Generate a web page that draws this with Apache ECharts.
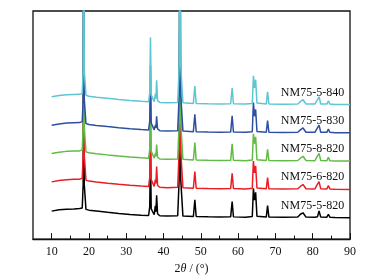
<!DOCTYPE html>
<html>
<head>
<meta charset="utf-8">
<script src="https://cdn.jsdelivr.net/npm/echarts@6/dist/echarts.min.js"></script>
<style>
  html, body { margin: 0; padding: 0; background: #fff; }
  #container { width: 373px; height: 280px; }
</style>
</head>
<body>
<div id="container"></div>
<script>
// 2theta positions shared by every pattern
var twoTheta = [
    10, 12, 14, 16, 17.5,
    18.2, 18.45, 18.6, 18.75, 19.2,
    20, 22, 25, 28, 31,
    34, 36.0, 36.3, 36.5, 36.7,
    37.5, 37.8, 37.95, 38.15, 38.4,
    39, 41, 43.8, 44.2, 44.4,
    44.6, 45.2, 48.0, 48.4, 48.75,
    52, 55, 58.0, 58.4, 58.75,
    62, 63.8, 64.1, 64.4, 64.7,
    65.05, 67.55, 67.9, 68.25, 72,
    76, 76.7, 77.0, 77.4, 78.2,
    80.6, 80.95, 81.3, 81.7, 82.15,
    83.8, 84.2, 84.6, 86, 90
];

// intensities (a.u., already stacked)
var nm75_5_820 = [
    28.7, 30, 30.7, 31, 31.3,
    32, 56, 271, 56, 30.5,
    29.7, 28.8, 27.5, 26.3, 25.3,
    24.5, 24.2, 33, 91, 31,
    25, 34, 28, 45, 26,
    24, 23.6, 24, 62, 282,
    62, 23.6, 23.2, 40.3, 23.2,
    22.9, 22.7, 22.8, 38.5, 22.8,
    22.5, 23.2, 52, 40, 48,
    23.5, 22.6, 34.5, 22.6, 22.3,
    22.6, 25.5, 26, 27, 22.6,
    22.5, 24.5, 23, 29, 22.6,
    22.5, 25.5, 22.5, 22.2, 22
];
var nm75_6_820 = [
    58.7, 60, 61, 61.3, 61.5,
    62.5, 86, 301, 86, 60.5,
    59.5, 58.6, 57.4, 56.3, 55.3,
    54.5, 54, 63, 120, 61,
    54, 61, 57, 74.4, 55,
    53.2, 52.8, 53.2, 91, 311,
    91, 52.8, 52.2, 69.3, 52.2,
    51.9, 51.7, 51.8, 67.6, 51.8,
    51.5, 52.2, 80, 68, 75,
    52.5, 51.6, 63, 51.6, 51.3,
    51.6, 54, 54.5, 56, 51.6,
    51.5, 54, 52, 59, 51.6,
    51.5, 55, 51.5, 51.2, 51
];
var nm75_8_820 = [
    87.7, 89, 90, 90.3, 90.5,
    91.5, 115, 330, 115, 89.5,
    88.5, 87.6, 86.4, 85.3, 84.3,
    83.5, 83, 92, 149, 90,
    83, 88, 85, 97, 84,
    82.2, 81.8, 82.2, 120, 340,
    120, 81.8, 81.2, 99, 81.2,
    80.9, 80.7, 80.8, 97.7, 80.8,
    80.5, 81.2, 108, 98, 105,
    81.5, 80.6, 92, 80.6, 80.3,
    80.6, 83, 83.5, 85, 80.6,
    80.5, 83, 81, 88, 80.6,
    80.5, 84, 80.5, 80.2, 80
];
var nm75_5_830 = [
    116.7, 118, 119, 119.3, 119.5,
    120.5, 144, 359, 144, 118.5,
    117.5, 116.6, 115.4, 114.3, 113.3,
    112.5, 112, 121, 178, 119,
    112, 117, 114, 126, 113,
    111.2, 110.8, 111.2, 149, 369,
    149, 110.8, 110.2, 128, 110.2,
    109.9, 109.7, 109.8, 126.5, 109.8,
    109.5, 110.2, 140, 126, 133,
    110.5, 109.6, 121.5, 109.6, 109.3,
    109.6, 112, 112.5, 114, 109.6,
    109.5, 112, 110, 117, 109.6,
    109.5, 113, 109.5, 109.2, 109
];
var nm75_5_840 = [
    146, 147.3, 148, 148.3, 148.5,
    149.5, 173, 388, 173, 147.5,
    146.5, 145.6, 144.4, 143.3, 142.3,
    141.5, 141, 150, 207, 148,
    141, 149, 144, 163, 142,
    140.2, 139.8, 140.2, 178, 398,
    178, 139.8, 139.2, 157, 139.2,
    138.9, 138.7, 138.8, 155, 138.8,
    138.5, 139.2, 167.5, 155, 163.5,
    139.5, 138.6, 151, 138.6, 138.3,
    138.6, 141, 141.5, 143, 138.6,
    138.5, 141, 139, 146, 138.6,
    138.5, 142, 138.5, 138.2, 138
];

var sampleNames = ['NM75-5-820', 'NM75-6-820', 'NM75-8-820', 'NM75-5-830', 'NM75-5-840'];
var patterns = [nm75_5_820, nm75_6_820, nm75_8_820, nm75_5_830, nm75_5_840];
var lineColors = ['#000000', '#ec1c24', '#62bb46', '#2d4fa3', '#5ec6d3'];

var majorTicks = [10, 20, 30, 40, 50, 60, 70, 80, 90];
var minorTicks = [15, 25, 35, 45, 55, 65, 75, 85];

var serif = 'Liberation Serif';

function toPairs(ys) {
    var pts = [];
    for (var i = 0; i < twoTheta.length; i++) {
        pts.push([twoTheta[i], ys[i]]);
    }
    return pts;
}

var dom = document.getElementById('container');
var myChart = echarts.init(dom, null, { renderer: 'canvas' });

var seriesList = patterns.map(function (ys, i) {
    return {
        name: sampleNames[i],
        type: 'line',
        xAxisIndex: 0,
        data: toPairs(ys),
        showSymbol: false,
        symbol: 'none',
        clip: true,
        animation: false,
        lineStyle: { color: lineColors[i], width: 1.5 },
        // sample name sits just above the flat tail of each pattern
        markPoint: {
            symbol: 'circle',
            symbolSize: 0,
            silent: true,
            animation: false,
            label: {
                show: true,
                position: 'left',
                distance: 4,
                formatter: sampleNames[i],
                color: '#111',
                fontFamily: serif,
                fontSize: 12
            },
            data: [{ coord: [89.5, ys[ys.length - 1] + 12.5] }]
        }
    };
});

var option = {
    backgroundColor: '#fff',
    animation: false,
    grid: {
        left: 33, right: 23, top: 11, bottom: 34.5,
        show: true,
        borderColor: '#111',
        borderWidth: 1.3,
        backgroundColor: 'transparent'
    },
    xAxis: [
        {
            type: 'value',
            min: 5,
            max: 90,
            axisLine: { show: true, lineStyle: { color: '#111', width: 1.3 } },
            axisTick: {
                show: true,
                inside: true,
                length: 6,
                customValues: majorTicks,
                lineStyle: { color: '#111', width: 1 }
            },
            axisLabel: {
                customValues: majorTicks,
                color: '#111',
                fontFamily: serif,
                fontSize: 12,
                margin: 7
            },
            splitLine: { show: false },
            name: '{a|2}{i|θ}{a| / (°)}',
            nameLocation: 'middle',
            nameGap: 22,
            nameTextStyle: {
                rich: {
                    a: { fontFamily: serif, fontSize: 12, color: '#111' },
                    i: { fontFamily: serif, fontSize: 12, fontStyle: 'italic', color: '#111' }
                }
            }
        },
        {
            // minor ticks only
            type: 'value',
            min: 5,
            max: 90,
            position: 'bottom',
            axisLine: { show: false },
            axisTick: {
                show: true,
                inside: true,
                length: 3.5,
                customValues: minorTicks,
                lineStyle: { color: '#111', width: 1 }
            },
            axisLabel: { show: false },
            splitLine: { show: false }
        }
    ],
    yAxis: {
        type: 'value',
        min: 0,
        max: 234,
        show: false,
        splitLine: { show: false }
    },
    series: seriesList
};

myChart.setOption(option);
window.addEventListener('resize', myChart.resize);
</script>
</body>
</html>
